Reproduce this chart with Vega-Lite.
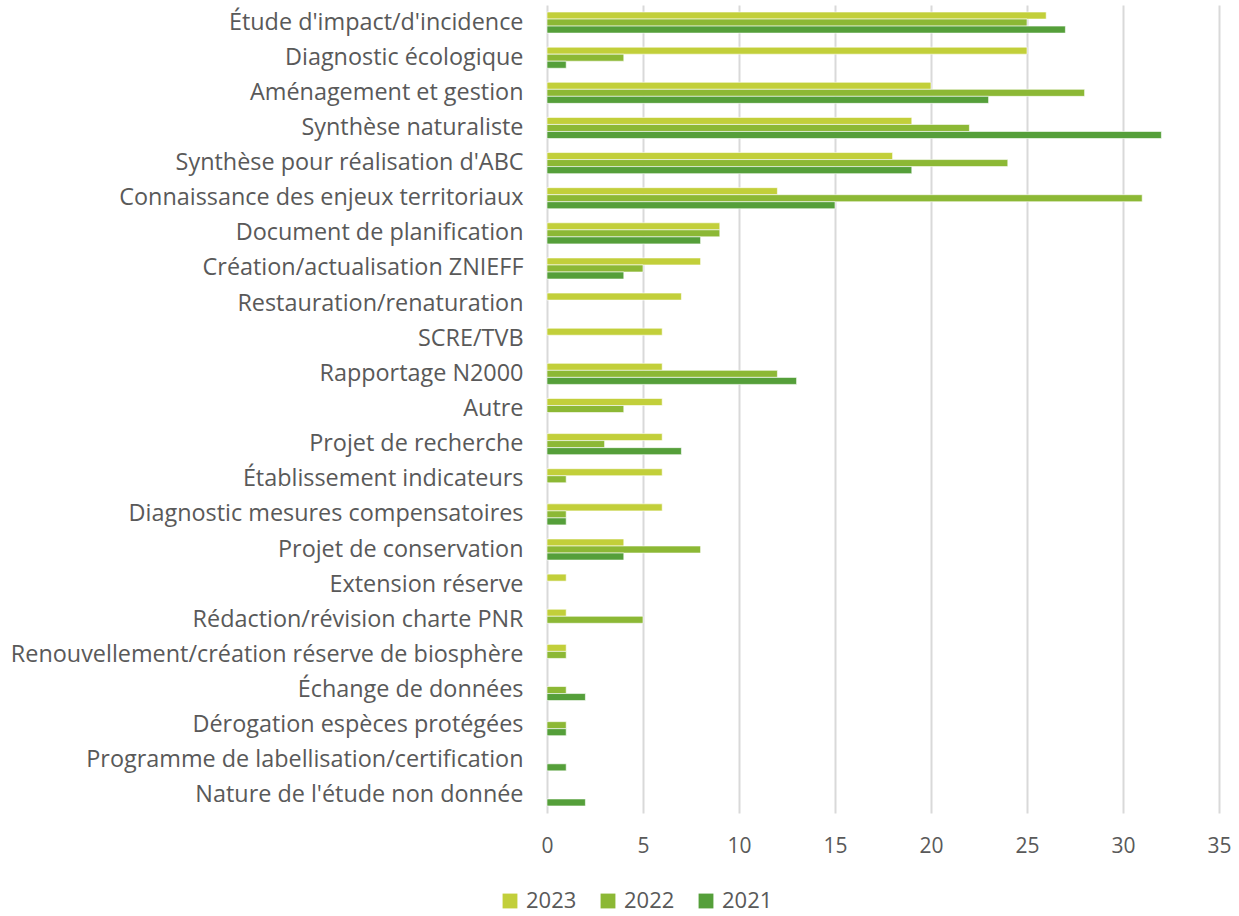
{
  "$schema": "https://vega.github.io/schema/vega-lite/v6.json",
  "width": 672,
  "height": 808,
  "autosize": "none",
  "padding": {"left": 547, "top": 5, "right": 20, "bottom": 103},
  "background": "white",
  "config": {
    "view": {"stroke": null},
    "font": "Open Sans"
  },
  "data": {
    "values": [
      {"cat": "Étude d'impact/d'incidence", "year": "2023", "n": 26},
      {"cat": "Étude d'impact/d'incidence", "year": "2022", "n": 25},
      {"cat": "Étude d'impact/d'incidence", "year": "2021", "n": 27},
      {"cat": "Diagnostic écologique", "year": "2023", "n": 25},
      {"cat": "Diagnostic écologique", "year": "2022", "n": 4},
      {"cat": "Diagnostic écologique", "year": "2021", "n": 1},
      {"cat": "Aménagement et gestion", "year": "2023", "n": 20},
      {"cat": "Aménagement et gestion", "year": "2022", "n": 28},
      {"cat": "Aménagement et gestion", "year": "2021", "n": 23},
      {"cat": "Synthèse naturaliste", "year": "2023", "n": 19},
      {"cat": "Synthèse naturaliste", "year": "2022", "n": 22},
      {"cat": "Synthèse naturaliste", "year": "2021", "n": 32},
      {"cat": "Synthèse pour réalisation d'ABC", "year": "2023", "n": 18},
      {"cat": "Synthèse pour réalisation d'ABC", "year": "2022", "n": 24},
      {"cat": "Synthèse pour réalisation d'ABC", "year": "2021", "n": 19},
      {"cat": "Connaissance des enjeux territoriaux", "year": "2023", "n": 12},
      {"cat": "Connaissance des enjeux territoriaux", "year": "2022", "n": 31},
      {"cat": "Connaissance des enjeux territoriaux", "year": "2021", "n": 15},
      {"cat": "Document de planification", "year": "2023", "n": 9},
      {"cat": "Document de planification", "year": "2022", "n": 9},
      {"cat": "Document de planification", "year": "2021", "n": 8},
      {"cat": "Création/actualisation ZNIEFF", "year": "2023", "n": 8},
      {"cat": "Création/actualisation ZNIEFF", "year": "2022", "n": 5},
      {"cat": "Création/actualisation ZNIEFF", "year": "2021", "n": 4},
      {"cat": "Restauration/renaturation", "year": "2023", "n": 7},
      {"cat": "SCRE/TVB", "year": "2023", "n": 6},
      {"cat": "Rapportage N2000", "year": "2023", "n": 6},
      {"cat": "Rapportage N2000", "year": "2022", "n": 12},
      {"cat": "Rapportage N2000", "year": "2021", "n": 13},
      {"cat": "Autre", "year": "2023", "n": 6},
      {"cat": "Autre", "year": "2022", "n": 4},
      {"cat": "Projet de recherche", "year": "2023", "n": 6},
      {"cat": "Projet de recherche", "year": "2022", "n": 3},
      {"cat": "Projet de recherche", "year": "2021", "n": 7},
      {"cat": "Établissement indicateurs", "year": "2023", "n": 6},
      {"cat": "Établissement indicateurs", "year": "2022", "n": 1},
      {"cat": "Diagnostic mesures compensatoires", "year": "2023", "n": 6},
      {"cat": "Diagnostic mesures compensatoires", "year": "2022", "n": 1},
      {"cat": "Diagnostic mesures compensatoires", "year": "2021", "n": 1},
      {"cat": "Projet de conservation", "year": "2023", "n": 4},
      {"cat": "Projet de conservation", "year": "2022", "n": 8},
      {"cat": "Projet de conservation", "year": "2021", "n": 4},
      {"cat": "Extension réserve", "year": "2023", "n": 1},
      {"cat": "Rédaction/révision charte PNR", "year": "2023", "n": 1},
      {"cat": "Rédaction/révision charte PNR", "year": "2022", "n": 5},
      {"cat": "Renouvellement/création réserve de biosphère", "year": "2023", "n": 1},
      {"cat": "Renouvellement/création réserve de biosphère", "year": "2022", "n": 1},
      {"cat": "Échange de données", "year": "2022", "n": 1},
      {"cat": "Échange de données", "year": "2021", "n": 2},
      {"cat": "Dérogation espèces protégées", "year": "2022", "n": 1},
      {"cat": "Dérogation espèces protégées", "year": "2021", "n": 1},
      {"cat": "Programme de labellisation/certification", "year": "2021", "n": 1},
      {"cat": "Nature de l'étude non donnée", "year": "2021", "n": 2}
    ]
  },
  "mark": {"type": "bar", "stroke": "white", "strokeWidth": 0.6},
  "encoding": {
    "y": {
      "field": "cat",
      "type": "nominal",
      "sort": null,
      "title": null,
      "scale": {"paddingInner": 0.4, "paddingOuter": 0.2},
      "axis": {
        "ticks": false,
        "domain": false,
        "labelFont": "Open Sans",
        "labelFontSize": 23.4,
        "labelColor": "#595959",
        "labelPadding": 24,
        "labelLimit": 600
      }
    },
    "yOffset": {
      "field": "year",
      "type": "nominal",
      "sort": ["2023", "2022", "2021"]
    },
    "x": {
      "field": "n",
      "type": "quantitative",
      "title": null,
      "scale": {"domain": [0, 35], "nice": false},
      "axis": {
        "values": [0, 5, 10, 15, 20, 25, 30, 35],
        "grid": true,
        "gridColor": "#d9d9d9",
        "gridWidth": 2,
        "domain": false,
        "ticks": false,
        "labelOverlap": false,
        "labelFlush": false,
        "labelBound": false,
        "labelFontSize": 21,
        "labelColor": "#595959",
        "labelPadding": 22
      }
    },
    "color": {
      "field": "year",
      "type": "nominal",
      "scale": {"domain": ["2023", "2022", "2021"], "range": ["#c2cf3a", "#8cb835", "#559f3a"]},
      "legend": {
        "title": null,
        "orient": "none",
        "direction": "horizontal",
        "legendX": -48,
        "legendY": 885,
        "symbolType": "square",
        "symbolSize": 220,
        "symbolStrokeWidth": 0,
        "labelFontSize": 22,
        "labelColor": "#595959",
        "columnPadding": 20,
        "labelOffset": 5
      }
    }
  }
}
